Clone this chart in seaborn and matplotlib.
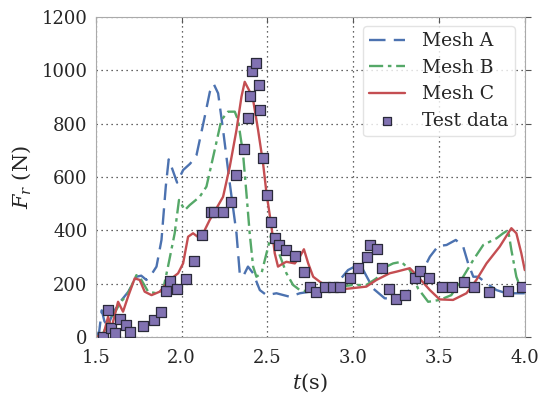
import numpy as np
import pandas as pd
import seaborn as sns
import matplotlib.pyplot as plt

# Valores (t em s, F em N)
mesh_a_t = [1.50, 1.52, 1.535, 1.55, 1.57, 1.60, 1.64, 1.69, 1.737, 1.765, 1.795, 1.825, 1.854,
            1.883, 1.908, 1.925, 1.941, 1.974, 2.009, 2.05, 2.087, 2.135, 2.165, 2.188, 2.213,
            2.242, 2.281, 2.32, 2.339, 2.358, 2.387, 2.417, 2.456, 2.495, 2.553, 2.63, 2.689,
            2.747, 2.825, 2.922, 2.97, 3.009, 3.048, 3.116, 3.184, 3.252, 3.33, 3.398, 3.447,
            3.495, 3.544, 3.598, 3.641, 3.67, 3.70, 3.729, 3.777, 3.835, 3.893, 4.0]
mesh_a_f = [0, 20, 100, 60, 40, 90, 130, 170, 226, 230, 214, 235, 264,
            364, 564, 666, 639, 579, 626, 650, 682, 826, 920, 948, 914,
            776, 576, 389, 239, 226, 264, 239, 176, 157, 164, 151, 164,
            170, 176, 214, 251, 264, 264, 182, 145, 145, 176, 239, 301,
            341, 345, 364, 339, 276, 226, 226, 201, 176, 164, 164]

mesh_b_t = [1.50, 1.54, 1.58, 1.61, 1.64, 1.688, 1.737, 1.766, 1.805, 1.854, 1.892, 1.921,
            1.96, 1.985, 2.019, 2.048, 2.106, 2.145, 2.193, 2.232, 2.271, 2.31, 2.329, 2.358,
            2.378, 2.397, 2.417, 2.436, 2.466, 2.495, 2.524, 2.572, 2.611, 2.65, 2.689, 2.747,
            2.845, 2.922, 3.0, 3.077, 3.136, 3.194, 3.233, 3.281, 3.33, 3.378, 3.437, 3.504,
            3.572, 3.641, 3.70, 3.758, 3.835, 3.874, 3.903, 3.922, 3.951, 3.98, 4.0]
mesh_b_f = [0, 10, 64, 90, 126, 164, 232, 214, 170, 164, 176, 264,
            389, 514, 476, 495, 526, 564, 701, 814, 845, 845, 814, 689,
            539, 389, 264, 226, 239, 314, 389, 307, 239, 195, 176, 170,
            176, 189, 195, 195, 220, 264, 276, 282, 251, 182, 132, 139,
            157, 226, 289, 345, 370, 389, 401, 326, 226, 176, 170]

mesh_c_t = [1.50, 1.545, 1.572, 1.591, 1.63, 1.659, 1.688, 1.727, 1.756, 1.785, 1.825, 1.873,
            1.931, 1.98, 2.009, 2.038, 2.067, 2.106, 2.135, 2.164, 2.203, 2.242, 2.281, 2.32,
            2.349, 2.368, 2.393, 2.417, 2.446, 2.475, 2.495, 2.524, 2.543, 2.562, 2.592, 2.611,
            2.66, 2.689, 2.713, 2.738, 2.767, 2.806, 2.883, 2.98, 3.077, 3.136, 3.213, 3.252,
            3.33, 3.378, 3.447, 3.504, 3.582, 3.66, 3.718, 3.777, 3.854, 3.903, 3.922, 3.951,
            3.98, 4.0]
mesh_c_f = [0, 10, 76, 32, 132, 95, 151, 220, 214, 170, 157, 170,
            214, 239, 276, 376, 389, 370, 401, 439, 482, 526, 639, 776,
            901, 957, 926, 889, 776, 651, 539, 414, 314, 264, 276, 282,
            276, 301, 329, 276, 226, 207, 176, 182, 189, 214, 239, 245,
            258, 226, 176, 141, 139, 164, 214, 276, 339, 389, 408, 389,
            314, 251]

test_t = [1.543, 1.572, 1.586, 1.611, 1.644, 1.675, 1.702, 1.776, 1.84, 1.883, 1.912, 1.931,
          1.974, 2.028, 2.073, 2.122, 2.174, 2.188, 2.242, 2.287, 2.316, 2.362, 2.386, 2.397,
          2.413, 2.436, 2.452, 2.457, 2.475, 2.50, 2.524, 2.545, 2.568, 2.607, 2.66, 2.714,
          2.747, 2.782, 2.835, 2.88, 2.922, 2.98, 3.03, 3.08, 3.10, 3.14, 3.167, 3.21,
          3.25, 3.30, 3.363, 3.392, 3.44, 3.518, 3.576, 3.646, 3.704, 3.79, 3.90, 3.986]
test_f = [0, 101, 34, 16, 66, 45, 20, 41, 64, 95, 172, 210,
          181, 216, 285, 382, 470, 470, 470, 506, 607, 704, 822, 902,
          997, 1026, 945, 850, 672, 534, 432, 372, 345, 326, 304, 245,
          186, 170, 186, 186, 186, 220, 258, 299, 345, 329, 258, 180,
          141, 157, 220, 249, 220, 189, 189, 207, 189, 170, 174, 189]

sns.set_style("white")
plt.rcParams["font.family"] = ["DejaVu Serif"]
plt.rcParams["mathtext.fontset"] = "dejavuserif"

fig = plt.figure(figsize=(5.41, 3.96), dpi=100)
ax = fig.add_axes([0.177, 0.149, 0.793, 0.808])

df_a = pd.DataFrame({"t": mesh_a_t, "F": mesh_a_f})
df_b = pd.DataFrame({"t": mesh_b_t, "F": mesh_b_f})
df_c = pd.DataFrame({"t": mesh_c_t, "F": mesh_c_f})
df_test = pd.DataFrame({"t": test_t, "F": test_f})

sns.lineplot(data=df_a, x="t", y="F", ax=ax, sort=False, color="#4C72B0", lw=1.7,
             label="Mesh A").lines[-1].set_dashes([7, 3.5])
sns.lineplot(data=df_b, x="t", y="F", ax=ax, sort=False, color="#55A868", lw=1.7,
             label="Mesh B").lines[-1].set_dashes([6, 2, 1.5, 2])
sns.lineplot(data=df_c, x="t", y="F", ax=ax, sort=False, color="#C44E52", lw=1.7,
             label="Mesh C")
sns.scatterplot(data=df_test, x="t", y="F", ax=ax, marker="s", s=50, color="#8172B2",
                edgecolor="#2a2a3a", linewidth=0.9, label="Test data", zorder=5)

ax.set_xlim(1.5, 4.0)
ax.set_ylim(0, 1200)
ax.set_xticks([1.5, 2.0, 2.5, 3.0, 3.5, 4.0])
ax.set_yticks(np.arange(0, 1201, 200))
ax.grid(True, color="#333333", linestyle=(0, (1, 3)), linewidth=0.9)
for sp in ax.spines.values():
    sp.set_color("#aaaaaa")
    sp.set_linewidth(0.8)
ax.tick_params(axis="x", direction="in", length=4, color="#555555",
               labelsize=13, pad=9, top=True)
ax.tick_params(axis="y", direction="out", length=4, color="#555555",
               labelsize=13, pad=2, right=True)
ax.set_xlabel("$t$(s)", fontsize=15, labelpad=3)
ax.set_ylabel("$F_r$ (N)", fontsize=15, labelpad=6)

leg = ax.legend(loc="upper right", fontsize=13.5, handlelength=1.9, handletextpad=0.9,
                frameon=True, framealpha=0.8, edgecolor="#dddddd", borderpad=0.35,
                borderaxespad=0.3, labelspacing=0.45, markerscale=0.8,
                bbox_to_anchor=(0.99, 0.99))

fig.savefig("out.png", dpi=100)
